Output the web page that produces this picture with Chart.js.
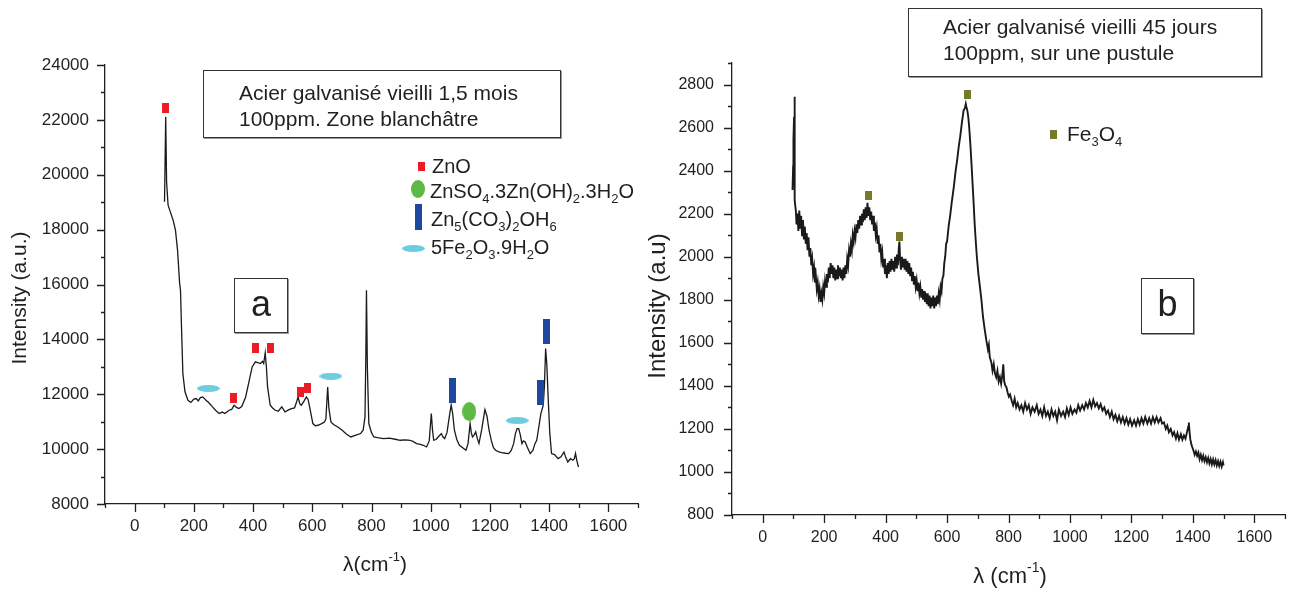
<!DOCTYPE html>
<html>
<head>
<meta charset="utf-8">
<script src="https://cdn.jsdelivr.net/npm/chart.js@4.4.0/dist/chart.umd.min.js"></script>
<style>
body { margin: 0; background: #fff; font-family: "Liberation Sans", Arial, sans-serif; color: #231f20; }
#wrap { position: relative; width: 1298px; height: 590px; overflow: hidden; }
.cv { position: absolute; top: 0; }
.box { position: absolute; border: 1px solid #333; box-shadow: 1px 1px 0 #999; background: #fff; box-sizing: border-box; }
.note { font-size: 21px; line-height: 26px; white-space: nowrap; }
.tag { font-size: 36px; text-align: center; }
.lab { position: absolute; font-size: 20px; line-height: 24px; white-space: nowrap; }
.lab sub { font-size: 13px; vertical-align: -5px; line-height: 0; }
.mk { position: absolute; }
</style>
</head>
<body>
<div id="wrap">
  <div class="cv" style="left:0;width:650px;height:590px"><canvas id="chartA"></canvas></div>
  <div class="cv" style="left:635px;width:663px;height:590px"><canvas id="chartB"></canvas></div>

  <div class="box note" style="left:203px;top:70px;width:358px;height:68px;padding:9px 0 0 35px">Acier galvanisé vieilli 1,5 mois<br>100ppm. Zone blanchâtre</div>
  <div class="box tag" style="left:234px;top:278px;width:54px;height:55px;line-height:50px">a</div>

  <div class="mk" style="left:418px;top:162px;width:7px;height:9px;background:#ec1c24"></div>
  <div class="lab" style="left:432px;top:154px">ZnO</div>
  <div class="mk" style="left:411px;top:180px;width:14px;height:18px;border-radius:50%;background:#5cb946"></div>
  <div class="lab" style="left:430px;top:179px">ZnSO<sub>4</sub>.3Zn(OH)<sub>2</sub>.3H<sub>2</sub>O</div>
  <div class="mk" style="left:415px;top:204px;width:7px;height:26px;background:#1f47a0"></div>
  <div class="lab" style="left:431px;top:207px">Zn<sub>5</sub>(CO<sub>3</sub>)<sub>2</sub>OH<sub>6</sub></div>
  <div class="mk" style="left:402px;top:245px;width:23px;height:7px;border-radius:50%;background:#6dcde0"></div>
  <div class="lab" style="left:431px;top:235px">5Fe<sub>2</sub>O<sub>3</sub>.9H<sub>2</sub>O</div>

  <div class="box note" style="left:908px;top:8px;width:354px;height:69px;padding:5px 0 0 34px">Acier galvanisé vieilli 45 jours<br>100ppm, sur une pustule</div>
  <div class="box tag" style="left:1141px;top:278px;width:53px;height:56px;line-height:50px">b</div>
  <div class="mk" style="left:1050px;top:130px;width:7px;height:9px;background:#76782a"></div>
  <div class="lab" style="left:1067px;top:122px;font-size:21px">Fe<sub>3</sub>O<sub>4</sub></div>
</div>

<script>
// ---- panel a : Raman spectrum, whitish zone ----
const waveA = [101,105,108,113,122,130,138,145,152,155,158,163,170,180,190,200,208,215,222,230,236,241,250,263,275,286,296,305,319,328,336,344,352,362,375,385,397,408,416,425,432,436,441,445,449,458,466,475,485,497,508,518,530,540,547,552,558,563,572,580,586,591,602,610,619,630,641,646,652,656,663,672,686,700,715,730,745,763,772,778,781,783,786,791,800,808,820,841,860,880,897,915,930,940,952,965,975,986,995,1002,1006,1010,1018,1025,1036,1041,1047,1055,1063,1069,1074,1080,1088,1097,1108,1119,1126,1133,1137,1141,1146,1152,1157,1163,1172,1183,1190,1197,1205,1212,1219,1230,1240,1252,1263,1272,1280,1286,1292,1297,1302,1308,1313,1319,1327,1336,1345,1352,1358,1365,1372,1380,1384,1388,1392,1397,1402,1408,1418,1430,1440,1450,1456,1463,1472,1480,1485,1489,1493,1499];
const intA = [19014,22113,19743,18894,18600,18346,17982,17253,16050,15786,14579,12756,12100,11782,11700,11820,11844,11760,11880,11902,11840,11782,11700,11538,11400,11297,11350,11300,11417,11450,11600,11520,11479,11550,11902,12400,12996,13179,13150,13120,13200,13120,13507,13000,12267,11600,11500,11417,11380,11538,11355,11420,11479,11500,11720,11902,11650,11600,11750,11902,11800,11538,10932,10850,10870,10920,10990,11100,12267,11500,10990,10900,10808,10700,10550,10443,10500,10567,10700,11173,13500,15794,13000,10932,10600,10443,10420,10385,10400,10360,10323,10340,10323,10280,10203,10170,10141,10079,10300,11297,10700,10323,10350,10443,10567,10450,10385,10600,11200,11600,11300,10688,10350,10141,10050,9958,10200,10932,10600,10443,10500,10626,10400,10203,10700,11443,11200,10688,10300,10050,9958,9900,9870,9850,9838,9950,10200,10567,10750,10749,10550,10203,10300,10262,10050,9838,9950,10200,10323,10800,11297,11600,12300,13667,13100,11782,10600,9838,9800,9655,9720,9896,9700,9532,9650,9594,9650,9838,9600,9349];

// peak assignments, panel a
const znoPeaks = [[106,22450],[333,11850],[409,13700],[459,13700],[560,12085],[585,12210]];
const znso4Peaks = [[1130,11370]];
const hydrozinciteBands = [[1072,12150],[1372,12050],[1391,14270]];
const feOxideBands = [[249,12210],[663,12660],[1292,11040]];

// ---- panel b : Raman spectrum on a pustule ----
const waveB = [97,99,100,102,103,104,105,108,110,113,116,119,122,125,128,131,134,137,140,143,146,149,152,155,158,161,164,167,170,173,176,179,182,185,188,191,194,197,200,203,206,209,212,215,218,221,224,227,230,233,236,239,242,245,248,251,254,257,260,263,266,269,272,275,278,281,284,287,290,293,296,299,302,305,308,311,314,317,320,323,326,329,332,335,338,341,344,347,350,353,356,359,362,365,368,371,374,377,380,383,386,389,392,395,398,401,404,407,410,413,416,419,422,425,428,431,434,437,440,443,445,447,450,453,456,459,462,465,468,471,474,477,480,483,486,489,492,495,498,501,504,507,510,513,516,519,522,525,528,531,534,537,540,543,546,549,552,555,558,561,564,567,570,573,576,579,582,585,588,591,594,597,600,605,610,615,622,628,633,638,643,648,654,658,661,663,666,669,672,676,680,683,686,690,694,697,702,707,712,717,723,728,733,736,739,744,748,752,756,760,764,768,772,776,780,783,786,790,793,797,801,805,810,815,820,825,830,836,842,848,854,860,866,872,878,885,892,898,904,910,916,922,928,934,940,946,952,958,964,971,978,984,990,996,1002,1008,1015,1021,1027,1033,1040,1046,1052,1058,1064,1070,1076,1082,1088,1094,1100,1106,1112,1118,1124,1130,1136,1142,1148,1154,1160,1166,1172,1178,1184,1190,1196,1202,1209,1215,1221,1227,1233,1239,1245,1252,1258,1264,1270,1276,1282,1288,1295,1300,1306,1312,1317,1322,1328,1334,1339,1345,1350,1355,1361,1366,1371,1376,1381,1385,1387,1389,1392,1395,1398,1402,1406,1410,1414,1418,1422,1426,1430,1434,1438,1442,1446,1450,1454,1458,1462,1466,1470,1474,1478,1482,1486,1490,1494,1498,1500];
const intB = [2310,2420,2542,2650,2743,2500,2263,2210,2150,2201,2120,2215,2130,2190,2100,2170,2080,2140,2060,2110,2030,2090,2000,2040,1960,1990,1920,1950,1880,1910,1850,1880,1820,1850,1790,1830,1800,1860,1830,1890,1860,1920,1880,1950,1900,1970,1920,1960,1900,1950,1890,1940,1900,1960,1910,1950,1900,1940,1890,1950,1900,1960,1920,1990,1960,2030,2000,2060,2030,2100,2070,2120,2090,2150,2110,2170,2130,2190,2150,2200,2160,2220,2170,2230,2180,2250,2190,2230,2170,2210,2150,2190,2120,2160,2100,2130,2060,2100,2020,2060,1990,2020,1950,1990,1920,1960,1900,1970,1920,1980,1930,1990,1940,1980,1930,2000,1950,2010,1960,2040,2070,1990,1940,2000,1950,1990,1940,1990,1930,1980,1920,1970,1910,1950,1890,1930,1870,1910,1860,1890,1840,1880,1830,1860,1810,1850,1800,1840,1790,1830,1780,1830,1770,1820,1760,1810,1770,1820,1760,1810,1770,1820,1780,1830,1800,1860,1840,1900,1910,1970,2000,2060,2070,2140,2190,2250,2325,2400,2450,2511,2560,2620,2681,2690,2710,2696,2680,2650,2604,2520,2420,2340,2263,2150,2060,2000,1920,1860,1798,1720,1658,1610,1570,1590,1534,1510,1470,1500,1457,1440,1470,1420,1441,1410,1450,1500,1420,1400,1395,1370,1350,1360,1333,1310,1340,1300,1320,1290,1310,1280,1320,1290,1310,1270,1300,1280,1310,1270,1290,1260,1300,1260,1280,1250,1290,1260,1280,1240,1290,1260,1280,1255,1295,1265,1300,1270,1290,1275,1310,1285,1310,1290,1320,1300,1330,1300,1335,1305,1320,1295,1315,1285,1300,1270,1285,1255,1280,1245,1265,1235,1260,1230,1255,1225,1250,1220,1245,1215,1240,1215,1245,1220,1250,1225,1255,1225,1250,1225,1255,1230,1255,1230,1250,1225,1230,1200,1215,1185,1200,1170,1185,1155,1180,1150,1175,1150,1170,1155,1185,1210,1230,1190,1150,1130,1116,1100,1080,1095,1075,1090,1060,1080,1055,1075,1050,1068,1045,1065,1040,1060,1035,1058,1035,1055,1030,1050,1028,1048,1025,1045,1030];

const magnetitePeaks = [[343,2286],[445,2092],[667,2755]];

const xTicksA = { min: -100, max: 1700, step: 100, major: 200 };
const yTicksA = { min: 8000, max: 24000, step: 1000, major: 2000 };
const xTicksB = { min: -100, max: 1700, step: 100, major: 200 };
const yTicksB = { min: 800, max: 2900, step: 100, major: 200 };

const INK = '#231f20';
const FONT = '"Liberation Sans", Arial, sans-serif';

function marker(w, h, color, round) {
  const c = document.createElement('canvas');
  c.width = w; c.height = h;
  const g = c.getContext('2d');
  g.fillStyle = color;
  if (round) {
    g.beginPath();
    g.ellipse(w / 2, h / 2, w / 2, h / 2, 0, 0, Math.PI * 2);
    g.fill();
  } else {
    g.fillRect(0, 0, w, h);
  }
  return c;
}

function pts(list) {
  return list.map(p => ({ x: p[0], y: p[1] }));
}

function peakSet(list, img) {
  return { type: 'scatter', data: pts(list), pointStyle: img, pointRadius: 5, showLine: false, order: 0 };
}

// draws outward major/minor ticks and the axis titles
const axisDecor = {
  id: 'axisDecor',
  afterDraw(chart, args, o) {
    const { ctx, chartArea, scales } = chart;
    ctx.save();
    ctx.strokeStyle = INK;
    ctx.lineWidth = 1.3;
    ctx.beginPath();
    scales.x.ticks.forEach(t => {
      const px = Math.round(scales.x.getPixelForValue(t.value)) + 0.5;
      const len = t.value % o.xMajor === 0 ? 8 : 4;
      ctx.moveTo(px, chartArea.bottom);
      ctx.lineTo(px, chartArea.bottom + len);
    });
    scales.y.ticks.forEach(t => {
      const py = Math.round(scales.y.getPixelForValue(t.value)) + 0.5;
      const len = t.value % o.yMajor === 0 ? 8 : 4;
      ctx.moveTo(chartArea.left, py);
      ctx.lineTo(chartArea.left - len, py);
    });
    ctx.stroke();

    ctx.fillStyle = INK;
    ctx.textBaseline = 'middle';
    // y title
    ctx.save();
    ctx.translate(o.yTitle.x, o.yTitle.y);
    ctx.rotate(-Math.PI / 2);
    ctx.font = o.yTitle.size + 'px ' + FONT;
    ctx.textAlign = 'center';
    ctx.fillText(o.yTitle.text, 0, 0);
    ctx.restore();
    // x title with superscript
    const s = o.xTitle.size;
    const parts = [[o.xTitle.pre, s, 0], ['-1', Math.round(s * 0.62), -s * 0.38], [')', s, 0]];
    let w = 0;
    parts.forEach(p => { ctx.font = p[1] + 'px ' + FONT; w += ctx.measureText(p[0]).width; });
    let x = o.xTitle.x - w / 2;
    ctx.textAlign = 'left';
    parts.forEach(p => {
      ctx.font = p[1] + 'px ' + FONT;
      ctx.fillText(p[0], x, o.xTitle.y + p[2]);
      x += ctx.measureText(p[0]).width;
    });
    ctx.restore();
  }
};

function makeChart(id, cfg) {
  return new Chart(document.getElementById(id), {
    type: 'line',
    data: { datasets: cfg.datasets },
    options: {
      responsive: true,
      maintainAspectRatio: false,
      animation: false,
      layout: { padding: { top: cfg.padTop, right: cfg.padRight, left: 0, bottom: 0 } },
      plugins: {
        legend: { display: false },
        tooltip: { enabled: false },
        axisDecor: cfg.decor
      },
      elements: { point: { radius: 0 } },
      scales: {
        x: {
          type: 'linear',
          min: cfg.xt.min, max: cfg.xt.max,
          grid: { display: false, drawTicks: false },
          border: { display: true, color: INK, width: 1.3 },
          afterFit(scale) { scale.height = cfg.xHeight; },
          ticks: {
            stepSize: cfg.xt.step, autoSkip: false, maxRotation: 0,
            padding: cfg.xPad, color: INK,
            font: { family: FONT, size: cfg.tickSize },
            callback: v => (v % cfg.xt.major === 0 ? String(v) : '')
          }
        },
        y: {
          min: cfg.yt.min, max: cfg.yt.max,
          grid: { display: false, drawTicks: false },
          border: { display: true, color: INK, width: 1.3 },
          afterFit(scale) { scale.width = cfg.yWidth; },
          ticks: {
            stepSize: cfg.yt.step, autoSkip: false,
            padding: cfg.yPad, color: INK,
            font: { family: FONT, size: cfg.tickSize },
            callback: v => (v % cfg.yt.major === 0 ? String(v) : '')
          }
        }
      }
    },
    plugins: [axisDecor]
  });
}

const red = marker(7, 10, '#ec1c24', false);
const green = marker(14, 19, '#5cb946', true);
const blue = marker(7, 25, '#1f47a0', false);
const cyan = marker(23, 7, '#6dcde0', true);
const olive = marker(7, 9, '#76782a', false);

makeChart('chartA', {
  datasets: [
    { data: pts(waveA.map((w, i) => [w, intA[i]])), borderColor: '#1a1a1a', borderWidth: 1.3, tension: 0, order: 1 },
    peakSet(znoPeaks, red),
    peakSet(znso4Peaks, green),
    peakSet(hydrozinciteBands, blue),
    peakSet(feOxideBands, cyan)
  ],
  xt: xTicksA, yt: yTicksA,
  padTop: 65, padRight: 6, xHeight: 86, yWidth: 105,
  xPad: 12, yPad: 16, tickSize: 17,
  decor: {
    xMajor: xTicksA.major, yMajor: yTicksA.major,
    yTitle: { text: 'Intensity (a.u.)', x: 20, y: 298, size: 21 },
    xTitle: { pre: 'λ(cm', x: 375, y: 565, size: 21 }
  }
});

makeChart('chartB', {
  datasets: [
    { data: pts(waveB.map((w, i) => [w, intB[i]])), borderColor: '#1a1a1a', borderWidth: 1.9, tension: 0, order: 1 },
    peakSet(magnetitePeaks, olive)
  ],
  xt: xTicksB, yt: yTicksB,
  padTop: 63, padRight: 10, xHeight: 75, yWidth: 97,
  xPad: 13, yPad: 18, tickSize: 16,
  decor: {
    xMajor: xTicksB.major, yMajor: yTicksB.major,
    yTitle: { text: 'Intensity (a.u)', x: 23, y: 306, size: 24 },
    xTitle: { pre: 'λ (cm', x: 375, y: 577, size: 22 }
  }
});
</script>
</body>
</html>
